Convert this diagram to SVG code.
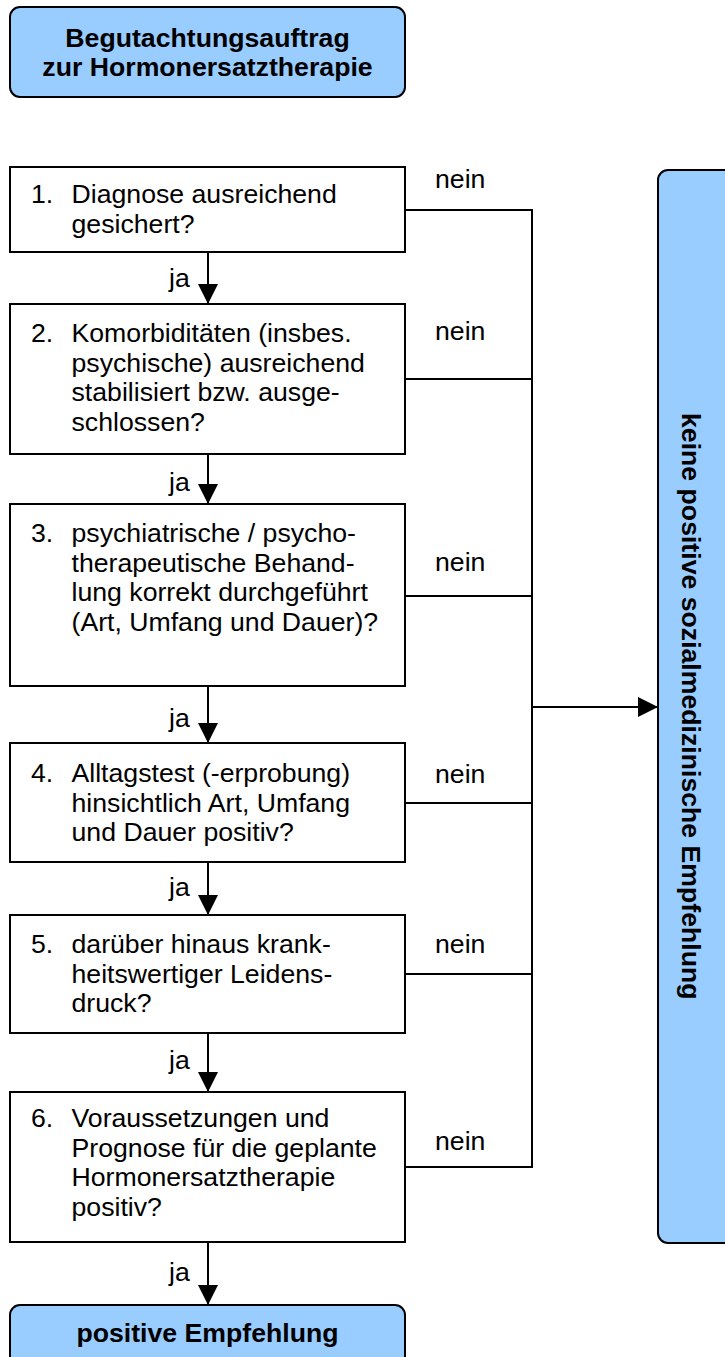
<svg xmlns="http://www.w3.org/2000/svg" width="725" height="1357" viewBox="0 0 725 1357">
<style>
.blue{fill:#99CCFF;stroke:#000;stroke-width:2}
.box{fill:#fff;stroke:#000;stroke-width:2}
.t{font-family:"Liberation Sans",Arial,sans-serif;font-size:26.67px;fill:#000}
.b{font-family:"Liberation Sans",Arial,sans-serif;font-size:26.67px;font-weight:bold;fill:#000}
.ln{stroke:#000;stroke-width:2;fill:none}
</style>
<defs>
<marker id="ah" markerWidth="20" markerHeight="20" viewBox="0 0 20 20" refX="20" refY="10" orient="auto" markerUnits="userSpaceOnUse">
<path d="M0,0 L20,10 L0,20 Z" fill="#000"/>
</marker>
</defs>
<rect width="725" height="1357" fill="#fff"/>
<g id="start">
<rect class="blue" x="10" y="7" width="395" height="90" rx="10"/>
<text class="b" x="207.5" y="47" text-anchor="middle">Begutachtungsauftrag</text>
<text class="b" x="207.5" y="76" text-anchor="middle">zur Hormonersatztherapie</text>
</g>
<g id="q1">
<rect class="box" x="10" y="167" width="395" height="85"/>
<text class="t" x="31" y="203">1.</text>
<text class="t" x="71.5" y="203">Diagnose ausreichend</text>
<text class="t" x="71.5" y="233">gesichert?</text>
</g>
<g id="q2">
<rect class="box" x="10" y="304" width="395" height="150"/>
<text class="t" x="31" y="342">2.</text>
<text class="t" x="71.5" y="342">Komorbiditäten (insbes.</text>
<text class="t" x="71.5" y="371.5">psychische) ausreichend</text>
<text class="t" x="71.5" y="401">stabilisiert bzw. ausge-</text>
<text class="t" x="71.5" y="430.5">schlossen?</text>
</g>
<g id="q3">
<rect class="box" x="10" y="504" width="395" height="182"/>
<text class="t" x="31" y="542">3.</text>
<text class="t" x="71.5" y="542">psychiatrische / psycho-</text>
<text class="t" x="71.5" y="571.5">therapeutische Behand-</text>
<text class="t" x="71.5" y="601">lung korrekt durchgeführt</text>
<text class="t" x="71.5" y="630.5">(Art, Umfang und Dauer)?</text>
</g>
<g id="q4">
<rect class="box" x="10" y="743" width="395" height="119"/>
<text class="t" x="31" y="782">4.</text>
<text class="t" x="71.5" y="782">Alltagstest (-erprobung)</text>
<text class="t" x="71.5" y="811.5">hinsichtlich Art, Umfang</text>
<text class="t" x="71.5" y="841">und Dauer positiv?</text>
</g>
<g id="q5">
<rect class="box" x="10" y="915" width="395" height="118"/>
<text class="t" x="31" y="953">5.</text>
<text class="t" x="71.5" y="953">darüber hinaus krank-</text>
<text class="t" x="71.5" y="982.5">heitswertiger Leidens-</text>
<text class="t" x="71.5" y="1012">druck?</text>
</g>
<g id="q6">
<rect class="box" x="10" y="1092" width="395" height="150"/>
<text class="t" x="31" y="1127">6.</text>
<text class="t" x="71.5" y="1127">Voraussetzungen und</text>
<text class="t" x="71.5" y="1156.5">Prognose für die geplante</text>
<text class="t" x="71.5" y="1186">Hormonersatztherapie</text>
<text class="t" x="71.5" y="1215.5">positiv?</text>
</g>
<g id="positive">
<rect class="blue" x="10" y="1305" width="395" height="80" rx="10"/>
<text class="b" x="207.5" y="1342" text-anchor="middle">positive Empfehlung</text>
</g>
<g id="negative">
<rect class="blue" x="658" y="170" width="90" height="1073" rx="10"/>
<text class="b" transform="translate(682,413) rotate(90)">keine positive sozialmedizinische Empfehlung</text>
</g>
<g id="connectors">
<line class="ln" x1="208" y1="252" x2="208" y2="304" marker-end="url(#ah)"/>
<line class="ln" x1="208" y1="454" x2="208" y2="504" marker-end="url(#ah)"/>
<line class="ln" x1="208" y1="686" x2="208" y2="743" marker-end="url(#ah)"/>
<line class="ln" x1="208" y1="862" x2="208" y2="915" marker-end="url(#ah)"/>
<line class="ln" x1="208" y1="1033" x2="208" y2="1092" marker-end="url(#ah)"/>
<line class="ln" x1="208" y1="1242" x2="208" y2="1305" marker-end="url(#ah)"/>
<text class="t" x="169" y="287">ja</text>
<text class="t" x="169" y="491">ja</text>
<text class="t" x="169" y="727">ja</text>
<text class="t" x="169" y="896">ja</text>
<text class="t" x="169" y="1069">ja</text>
<text class="t" x="169" y="1281">ja</text>
<line class="ln" x1="405" y1="210" x2="532" y2="210"/>
<line class="ln" x1="405" y1="379" x2="532" y2="379"/>
<line class="ln" x1="405" y1="596" x2="532" y2="596"/>
<line class="ln" x1="405" y1="803" x2="532" y2="803"/>
<line class="ln" x1="405" y1="974" x2="532" y2="974"/>
<line class="ln" x1="405" y1="1167" x2="532" y2="1167"/>
<line class="ln" x1="532" y1="209" x2="532" y2="1168"/>
<line class="ln" x1="532" y1="707" x2="658" y2="707" marker-end="url(#ah)"/>
<text class="t" x="435" y="188">nein</text>
<text class="t" x="435" y="340">nein</text>
<text class="t" x="435" y="571">nein</text>
<text class="t" x="435" y="783">nein</text>
<text class="t" x="435" y="953">nein</text>
<text class="t" x="435" y="1150">nein</text>
</g>
</svg>
